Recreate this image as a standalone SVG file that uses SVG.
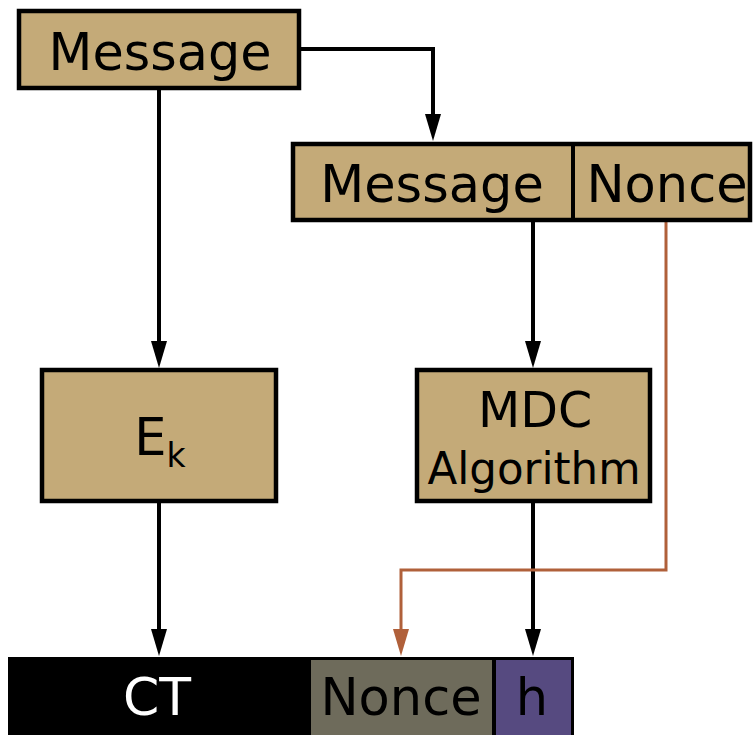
<svg xmlns="http://www.w3.org/2000/svg" width="754" height="735" viewBox="0 0 754 735">
<style>
.box{fill:#c4aa78;stroke:#000;stroke-width:4.5}
.t{font-family:"DejaVu Sans",Verdana,sans-serif;fill:#000;text-anchor:middle}
.ln{fill:none;stroke:#000;stroke-width:4}
.or{fill:none;stroke:#b0603a;stroke-width:3}
</style>
<defs>
<marker id="ab" markerUnits="userSpaceOnUse" markerWidth="27" markerHeight="16" viewBox="0 0 27 16" refX="7" refY="8" orient="auto"><path d="M0,0 L27,8 L0,16 Z" fill="#000"/></marker>
<marker id="ao" markerUnits="userSpaceOnUse" markerWidth="27" markerHeight="16" viewBox="0 0 27 16" refX="7" refY="8" orient="auto"><path d="M0,0 L27,8 L0,16 Z" fill="#b0603a"/></marker>
</defs>
<rect width="754" height="735" fill="#fff"/>
<g id="connectors">
<path class="ln" d="M300,49 H433 V121" marker-end="url(#ab)"/>
<path class="ln" d="M159,90 V348" marker-end="url(#ab)"/>
<path class="ln" d="M533,222 V348" marker-end="url(#ab)"/>
<path class="ln" d="M159,503 V636" marker-end="url(#ab)"/>
<path class="ln" d="M533,503 V636" marker-end="url(#ab)"/>
<path class="or" d="M666,222 V570 H401 V636" marker-end="url(#ao)"/>
</g>
<g id="message">
<rect class="box" x="19" y="11" width="280" height="77"/>
<text class="t" x="160" y="70" font-size="52" textLength="223" lengthAdjust="spacingAndGlyphs">Message</text>
</g>
<g id="message-nonce">
<rect class="box" x="293" y="144" width="457" height="76"/>
<line x1="573" y1="144" x2="573" y2="220" stroke="#000" stroke-width="4"/>
<text class="t" x="432" y="202" font-size="51">Message</text>
<text class="t" x="667" y="202" font-size="51">Nonce</text>
</g>
<g id="ek">
<rect class="box" x="42" y="370" width="234" height="131"/>
<text class="t" x="160" y="455" font-size="51">E<tspan font-size="33" dy="12">k</tspan></text>
</g>
<g id="mdc">
<rect class="box" x="417" y="370" width="233" height="131"/>
<text class="t" x="535" y="427" font-size="49">MDC</text>
<text class="t" x="534" y="484" font-size="45" textLength="213" lengthAdjust="spacingAndGlyphs">Algorithm</text>
</g>
<g id="output">
<rect x="8" y="657" width="566" height="80" fill="#000"/>
<rect x="311" y="660" width="181" height="80" fill="#6e6b5b"/>
<rect x="496" y="660" width="75" height="80" fill="#564a80"/>
<text class="t" x="157" y="715" font-size="52" style="fill:#fff">CT</text>
<text class="t" x="401" y="715" font-size="51">Nonce</text>
<text class="t" x="532" y="715" font-size="51">h</text>
</g>
</svg>
